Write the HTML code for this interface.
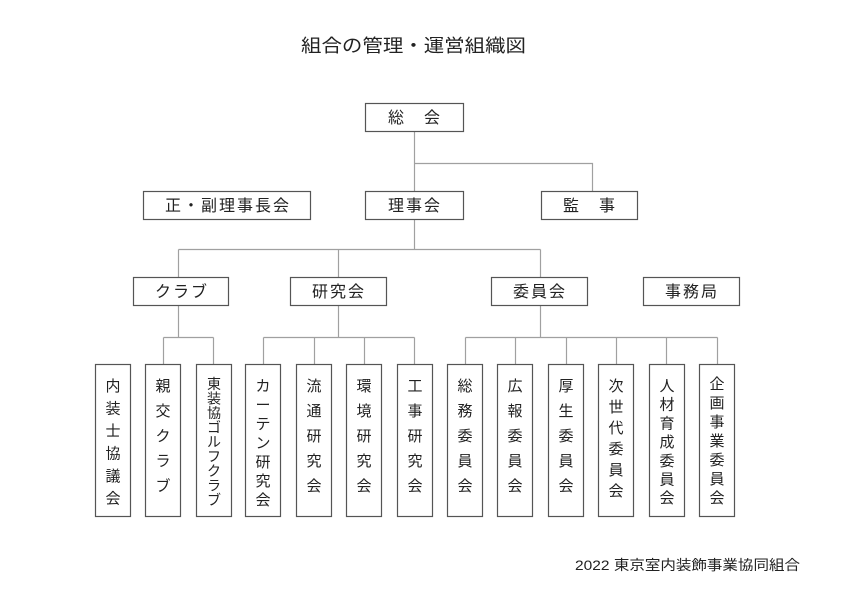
<!DOCTYPE html>
<html><head><meta charset="utf-8"><style>
html,body{margin:0;padding:0;background:#fff;}
svg{display:block;}
text{font-family:"Liberation Sans","Noto Sans CJK JP",sans-serif;fill:#222;}
</style></head><body>
<svg width="842" height="595" viewBox="0 0 842 595" xmlns="http://www.w3.org/2000/svg">
<rect width="842" height="595" fill="#fff"/>
<text x="301" y="52" font-size="18" textLength="225" lengthAdjust="spacingAndGlyphs">組合の管理・運営組織図</text>
<text x="575" y="570" font-size="14" textLength="225" lengthAdjust="spacingAndGlyphs">2022 東京室内装飾事業協同組合</text>

<g stroke="#a0a0a0" stroke-width="1.2" fill="none">
<path d="M414.5 131V191M414.5 163.5H592.5V191"/>
<path d="M414.5 219V249.5M178.5 249.5H540.5M178.5 249.5V277M338.5 249.5V277M540.5 249.5V277"/>
<path d="M178.5 306V337.5M163.5 337.5H213.5M163.5 337.5V364M213.5 337.5V364"/>
<path d="M338.5 306V337.5M263.5 337.5H414.5M263.5 337.5V364M314.5 337.5V364M364.5 337.5V364M414.5 337.5V364"/>
<path d="M540.5 306V337.5M465.5 337.5H717.5M465.5 337.5V364M515.5 337.5V364M566.5 337.5V364M616.5 337.5V364M666.5 337.5V364M717.5 337.5V364"/>
</g>

<g stroke="#555" stroke-width="1.2" fill="#fff">
<rect x="365.5" y="103.5" width="98" height="28"/>
<rect x="143.5" y="191.5" width="167" height="28"/>
<rect x="365.5" y="191.5" width="98" height="28"/>
<rect x="541.5" y="191.5" width="96" height="28"/>
<rect x="133.5" y="277.5" width="95" height="28"/>
<rect x="290.5" y="277.5" width="96" height="28"/>
<rect x="491.5" y="277.5" width="96" height="28"/>
<rect x="643.5" y="277.5" width="96" height="28"/>
<rect x="95.5" y="364.5" width="35" height="152"/>
<rect x="145.5" y="364.5" width="35" height="152"/>
<rect x="196.5" y="364.5" width="35" height="152"/>
<rect x="245.5" y="364.5" width="35" height="152"/>
<rect x="296.5" y="364.5" width="35" height="152"/>
<rect x="346.5" y="364.5" width="35" height="152"/>
<rect x="397.5" y="364.5" width="35" height="152"/>
<rect x="447.5" y="364.5" width="35" height="152"/>
<rect x="497.5" y="364.5" width="35" height="152"/>
<rect x="548.5" y="364.5" width="35" height="152"/>
<rect x="598.5" y="364.5" width="35" height="152"/>
<rect x="649.5" y="364.5" width="35" height="152"/>
<rect x="699.5" y="364.5" width="35" height="152"/>
</g>

<g font-size="16" text-anchor="middle" letter-spacing="2">
<text x="415" y="123">総　会</text>
<text x="228" y="211">正・副理事長会</text>
<text x="415" y="211">理事会</text>
<text x="590" y="211">監　事</text>
<text x="182" y="297">クラブ</text>
<text x="339" y="297">研究会</text>
<text x="540" y="297">委員会</text>
<text x="692" y="297">事務局</text>
</g>

<g font-size="15" text-anchor="middle">
<text x="113" y="391">内</text><text x="113" y="413.5">装</text><text x="113" y="436">士</text><text x="113" y="458.5">協</text><text x="113" y="481">議</text><text x="113" y="503.5">会</text>
<text x="163" y="391">親</text><text x="163" y="416">交</text><text x="163" y="441">ク</text><text x="163" y="466">ラ</text><text x="163" y="491">ブ</text>
<g font-size="14"><text x="214" y="389">東</text><text x="214" y="403.5">装</text><text x="214" y="418">協</text><text x="214" y="432.5">ゴ</text><text x="214" y="447">ル</text><text x="214" y="461.5">フ</text><text x="214" y="476">ク</text><text x="214" y="490.5">ラ</text><text x="214" y="505">ブ</text></g>
<text x="263" y="391">カ</text><text x="263" y="410">ー</text><text x="263" y="429">テ</text><text x="263" y="448">ン</text><text x="263" y="467">研</text><text x="263" y="486">究</text><text x="263" y="505">会</text>
<text x="314" y="391">流</text><text x="314" y="416">通</text><text x="314" y="441">研</text><text x="314" y="466">究</text><text x="314" y="491">会</text>
<text x="364" y="391">環</text><text x="364" y="416">境</text><text x="364" y="441">研</text><text x="364" y="466">究</text><text x="364" y="491">会</text>
<text x="415" y="391">工</text><text x="415" y="416">事</text><text x="415" y="441">研</text><text x="415" y="466">究</text><text x="415" y="491">会</text>
<text x="465" y="391">総</text><text x="465" y="416">務</text><text x="465" y="441">委</text><text x="465" y="466">員</text><text x="465" y="491">会</text>
<text x="515" y="391">広</text><text x="515" y="416">報</text><text x="515" y="441">委</text><text x="515" y="466">員</text><text x="515" y="491">会</text>
<text x="566" y="391">厚</text><text x="566" y="416">生</text><text x="566" y="441">委</text><text x="566" y="466">員</text><text x="566" y="491">会</text>
<text x="616" y="391">次</text><text x="616" y="412">世</text><text x="616" y="433">代</text><text x="616" y="454">委</text><text x="616" y="475">員</text><text x="616" y="496">会</text>
<text x="667" y="391">人</text><text x="667" y="409.7">材</text><text x="667" y="428.4">育</text><text x="667" y="447.1">成</text><text x="667" y="465.8">委</text><text x="667" y="484.5">員</text><text x="667" y="503">会</text>
<text x="717" y="389">企</text><text x="717" y="408">画</text><text x="717" y="427">事</text><text x="717" y="446">業</text><text x="717" y="465">委</text><text x="717" y="484">員</text><text x="717" y="503">会</text>
</g>
</svg>
</body></html>
